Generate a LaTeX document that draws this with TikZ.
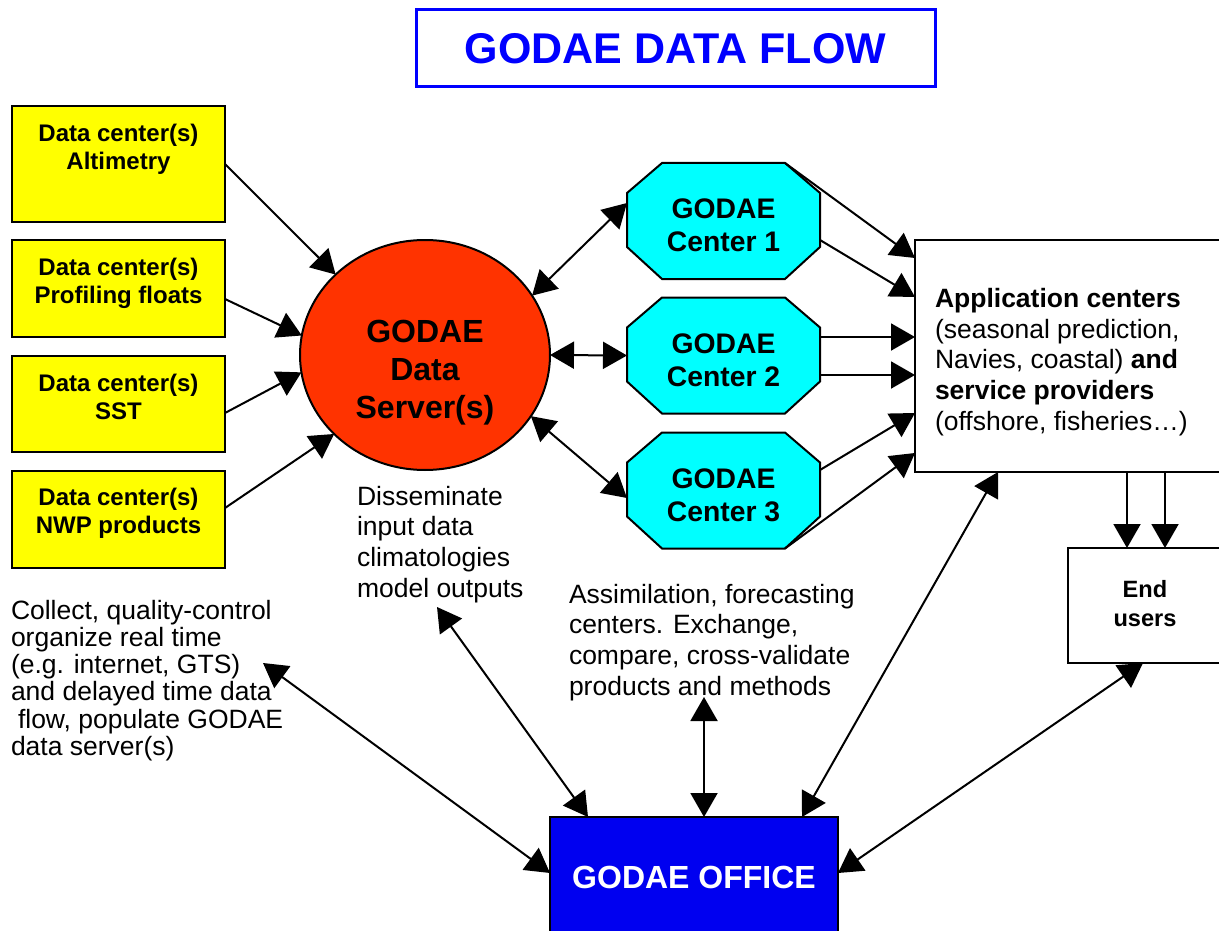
\documentclass[tikz,border=0pt]{standalone}
\usepackage{fontspec}
\setmainfont{Liberation Sans}
\usetikzlibrary{shapes.geometric,arrows.meta,calc}
\definecolor{srvred}{RGB}{255,51,0}
\definecolor{octcyan}{RGB}{0,255,255}
\definecolor{boxyellow}{RGB}{255,255,0}
\definecolor{offblue}{RGB}{0,0,240}
\definecolor{titleblue}{RGB}{0,0,255}
\newcommand\godoct[1]{%
  \draw[oct] ($(#1.north west)+(35,0)$) -- ($(#1.north east)+(-35,0)$) --
    ($(#1.north east)+(0,30)$) -- ($(#1.south east)+(0,-32)$) --
    ($(#1.south east)+(-35,0)$) -- ($(#1.south west)+(35,0)$) --
    ($(#1.south west)+(0,-32)$) -- ($(#1.north west)+(0,30)$) -- cycle;}
\begin{document}
\begin{tikzpicture}[x=1pt,y=-1pt,
  every node/.style={inner sep=0pt, outer sep=0pt},
  ybox/.style={draw, line width=2pt, fill=boxyellow, minimum width=213pt},
  btxt/.style={font=\fontsize{24}{28}\selectfont\bfseries, align=center},
  body/.style={font=\fontsize{26.5}{30.6}\selectfont, align=left},
  octtxt/.style={font=\fontsize{28.3}{33}\selectfont\bfseries, align=center},
  octframe/.style={minimum width=193pt, minimum height=116pt},
  oct/.style={draw, line width=2pt, fill=octcyan},
  wbox/.style={draw, line width=2pt, fill=white, anchor=north west},
  tip/.tip={Triangle[length=24pt,width=27pt]},
  arr/.style={line width=2pt, -tip},
  darr/.style={line width=2pt, tip-tip},
]
\useasboundingbox (0,0) rectangle (1219,931);

% title
\node[draw=titleblue, line width=3pt, minimum width=519pt, minimum height=77pt,
      font=\fontsize{43}{50}\selectfont\bfseries, text=titleblue] (title) at (675.5,48.5) {GODAE DATA FLOW};

% data centers
\node[ybox, minimum height=116pt] (b1) at (118.5,164) {};
\node[btxt] (b1t) at (118.5,149) {Data center(s)\\Altimetry};
\node[ybox, minimum height=97pt] (b2) at (118.5,288.5) {};
\node[btxt] (b2t) at (118.5,283) {Data center(s)\\Profiling floats};
\node[ybox, minimum height=96pt] (b3) at (118.5,404) {};
\node[btxt] (b3t) at (118.5,397) {Data center(s)\\SST};
\node[ybox, minimum height=97pt] (b4) at (118.5,519.5) {};
\node[btxt] (b4t) at (118.5,513) {Data center(s)\\NWP products};

% data server
\node[ellipse, draw, line width=2pt, fill=srvred, minimum width=250pt, minimum height=230pt] (srv) at (425,355) {};
\node[font=\fontsize{32}{38}\selectfont\bfseries, align=center] (srvt) at (425,373) {GODAE\\Data\\Server(s)};

% GODAE centers
\node[octframe] (c1) at (723.5,221) {};
\godoct{c1}
\node[octtxt] (c1t) at (723.5,225) {GODAE\\Center 1};
\node[octframe] (c2) at (723.5,355.5) {};
\godoct{c2}
\node[octtxt] (c2t) at (723.5,360) {GODAE\\Center 2};
\node[octframe] (c3) at (723.5,490.5) {};
\godoct{c3}
\node[octtxt] (c3t) at (723.5,495) {GODAE\\Center 3};

% application centers
\node[wbox, minimum width=310pt, minimum height=232pt] (app) at (915,240) {};
\node[body, anchor=west] (appt) at (935,362) {\textbf{Application centers}\\(seasonal prediction,\\Navies, coastal) \textbf{and}\\\textbf{service providers}\\(offshore, fisheries…)};

% end users
\node[wbox, minimum width=153pt, minimum height=115pt] (end) at (1068,548) {};
\node[font=\fontsize{23.6}{29}\selectfont\bfseries, align=center] (endt) at (1145,604) {End\\users};

% office
\node[draw, line width=2pt, fill=offblue, minimum width=288pt, minimum height=120pt, anchor=north west,
      text=white, font=\fontsize{32}{38}\selectfont\bfseries] (off) at (550,817) {GODAE OFFICE};

% descriptive texts
\node[font=\fontsize{26.5}{27.2}\selectfont, align=left, anchor=north west] (colt) at (11,600)
  {Collect, quality-control\\organize real time\\(e.g. internet, GTS)\\and delayed time data\\\hspace*{7pt}flow, populate GODAE\\data server(s)};
\node[body, anchor=north west] (dist) at (357,486) {Disseminate\\input data\\climatologies\\model outputs};
\node[body, anchor=north west] (asst) at (569,584) {Assimilation, forecasting\\centers. Exchange,\\compare, cross-validate\\products and methods};

\coordinate (ce) at (263,663);
\coordinate (de) at (437,607);
\coordinate (ae) at (704,697);

% data centers -> server
\draw[arr] (b1.east) -- (srv.138.5);
\draw[arr] ($(b2.east)+(0,10.5)$) -- (srv.171.8);
\draw[arr] ($(b3.east)+(0,9)$) -- (srv.188.6);
\draw[arr] ($(b4.east)+(0,-11.5)$) -- (srv.221.5);

% server <-> centers
\draw[darr] (srv.29) -- ($(c1.west)+(0,-18)$);
\draw[darr] (srv.0) -- (c2.west);
\draw[darr] (srv.330) -- ($(c3.west)+(0,7.5)$);

% centers -> application
\draw[arr] ($(c1.north east)+(-35,0)$) -- ($(app.north west)+(0,18)$);
\draw[arr] ($(c1.east)+(0,19)$) -- ($(app.north west)+(0,57)$);
\draw[arr] ($(c2.east)+(0,-18.5)$) -- ($(app.north west)+(0,97)$);
\draw[arr] ($(c2.east)+(0,19.5)$) -- ($(app.north west)+(0,135)$);
\draw[arr] ($(c3.east)+(0,-20.5)$) -- ($(app.north west)+(0,173)$);
\draw[arr] ($(c3.south east)+(-35,0)$) -- ($(app.north west)+(0,213)$);

% application -> end users
\coordinate (a1) at ($(app.south west)+(212,0)$);
\coordinate (a2) at ($(app.south west)+(250,0)$);
\draw[arr] (a1) -- (a1 |- end.north);
\draw[arr] (a2) -- (a2 |- end.north);

% office links
\draw[darr] (ce) -- ($(off.west)+(0,-4)$);
\draw[darr] (de) -- ($(off.north west)+(38,0)$);
\draw[darr] (ae) -- (ae |- off.north);
\draw[darr] ($(off.north west)+(252,0)$) -- ($(app.south west)+(83,0)$);
\draw[darr] ($(off.east)+(0,-4)$) -- ($(end.south west)+(75,0)$);
\end{tikzpicture}
\end{document}
